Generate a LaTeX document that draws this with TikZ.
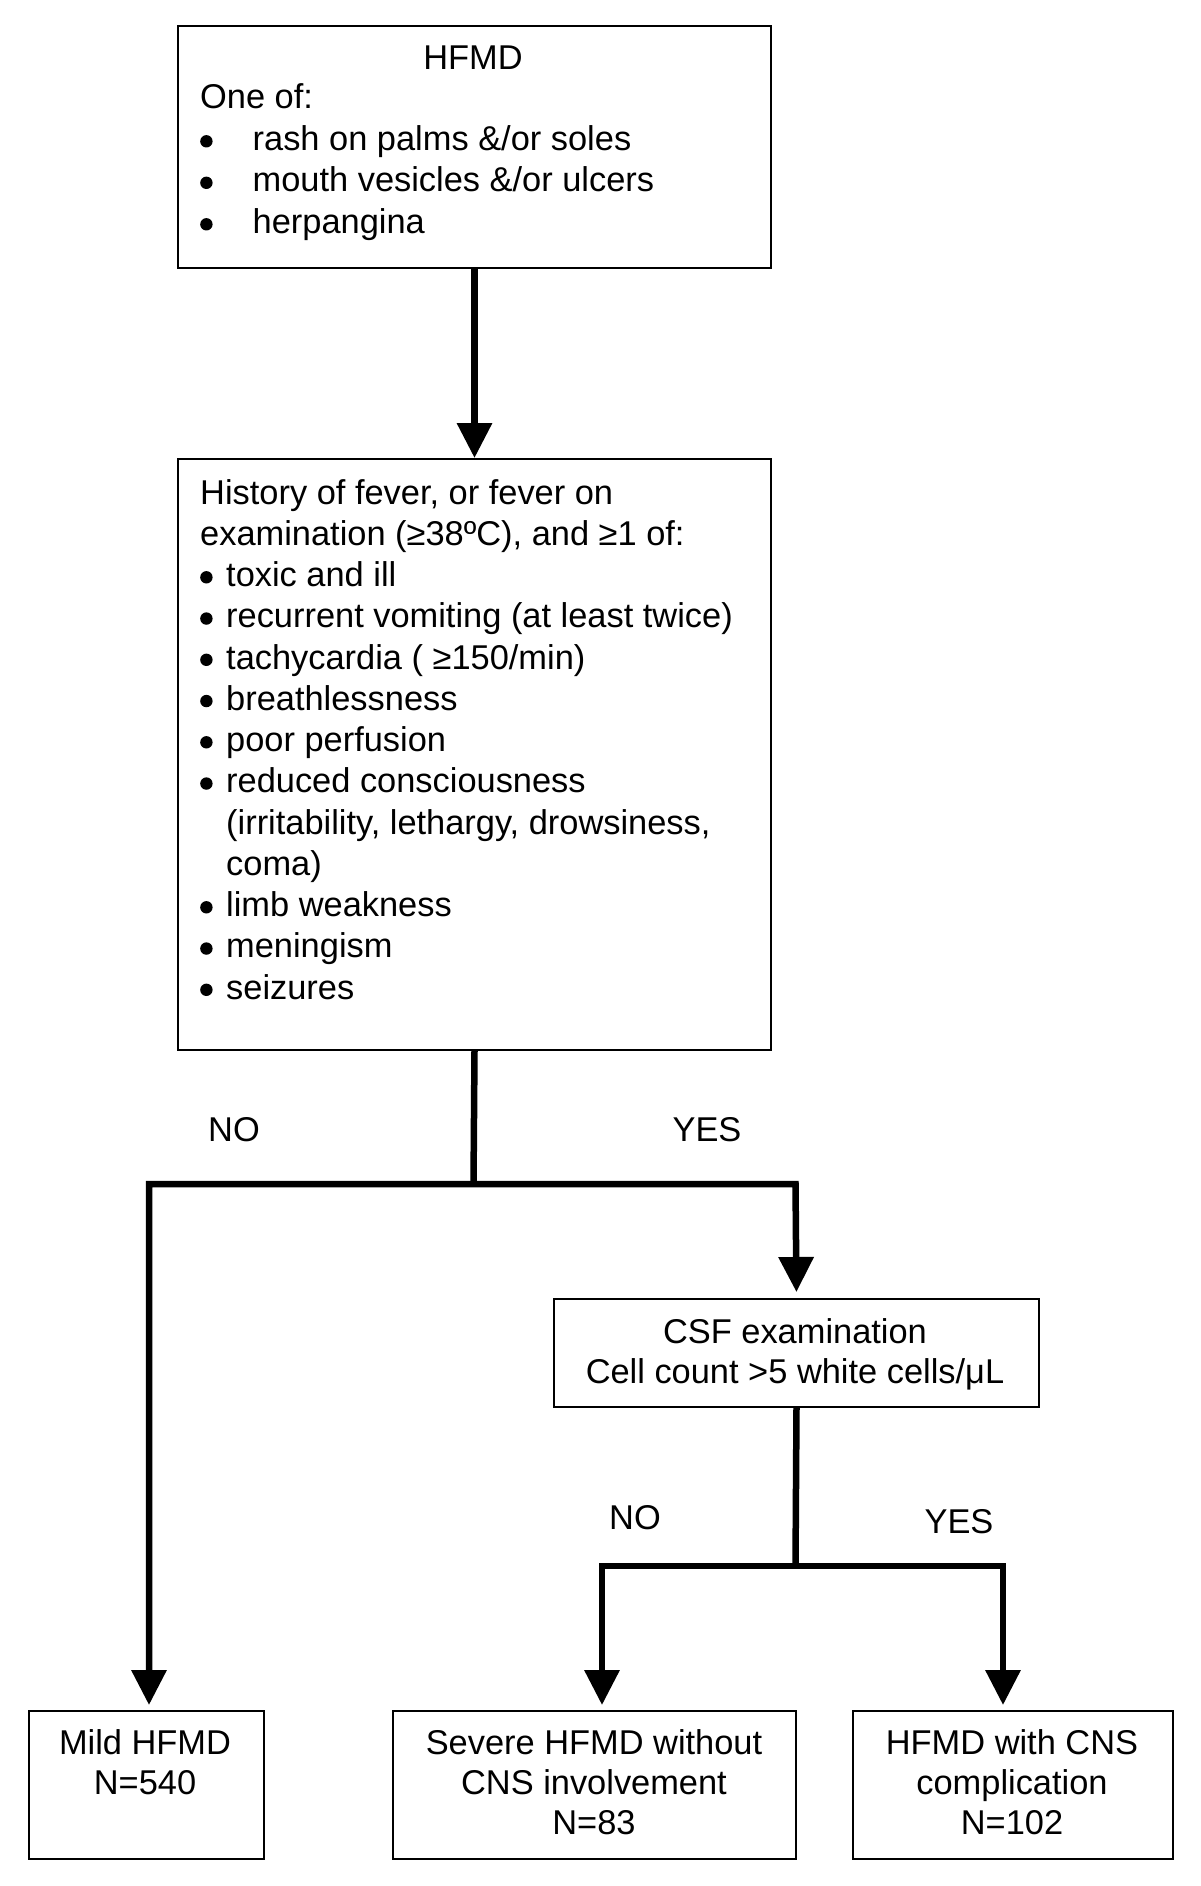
\documentclass[tikz,border=0pt]{standalone}
\usepackage{fontspec}
\setmainfont{Liberation Sans}
\usetikzlibrary{arrows.meta}
\newcommand{\mybul}[1]{\makebox[#1][l]{\raisebox{3pt}{\tikz\fill (6.2pt,6.2pt) circle[radius=6.2pt];}}}
\begin{document}
\begin{tikzpicture}[x=1pt,y=-1pt,
  box/.style={draw, line width=2pt, inner sep=0pt, anchor=north west},
  conn/.style={line width=6.5pt},
  arr/.style={conn, -{Triangle[length=35pt,width=34pt]}},
  dblarr/.style={conn, {Triangle[length=35pt,width=34pt]}-{Triangle[length=35pt,width=34pt]}},
  txt/.style={inner sep=0pt, font=\fontsize{34.4}{41.5}\selectfont},
  txtb/.style={inner sep=0pt, font=\fontsize{34.4}{41.25}\selectfont},
  txtc/.style={inner sep=0pt, font=\fontsize{34.4}{40}\selectfont}]
\useasboundingbox (0,0) rectangle (1200,1886);

% boxes
\node[box, minimum width=593pt, minimum height=242pt] (b1) at (177,25) {};
\node[box, minimum width=593pt, minimum height=591pt] (b2) at (177,458) {};
\node[box, minimum width=485pt, minimum height=108pt] (csf) at (553,1298) {};
\node[box, minimum width=235pt, minimum height=148pt] (mild) at (28,1710) {};
\node[box, minimum width=403pt, minimum height=148pt] (sev) at (392,1710) {};
\node[box, minimum width=320pt, minimum height=148pt] (cns) at (852,1710) {};

% texts
\node[txt, anchor=base] (t1h) at (473,70) {HFMD};
\node[txt, anchor=base west] (t1) at (200,109) {\begin{tabular}[t]{@{}l@{}}
One of:\\
\mybul{52.5pt}rash on palms \&/or soles\\
\mybul{52.5pt}mouth vesicles \&/or ulcers\\
\mybul{52.5pt}herpangina
\end{tabular}};

\node[txtb, anchor=base west] (t2) at (200,504) {\begin{tabular}[t]{@{}l@{}}
History of fever, or fever on\\
examination (≥38ºC), and ≥1 of:\\
\mybul{26pt}toxic and ill\\
\mybul{26pt}recurrent vomiting (at least twice)\\
\mybul{26pt}tachycardia ( ≥150/min)\\
\mybul{26pt}breathlessness\\
\mybul{26pt}poor perfusion\\
\mybul{26pt}reduced consciousness\\
\hspace*{26pt}(irritability, lethargy, drowsiness,\\
\hspace*{26pt}coma)\\
\mybul{26pt}limb weakness\\
\mybul{26pt}meningism\\
\mybul{26pt}seizures
\end{tabular}};

\node[txtc, anchor=base] (tcsf) at (795,1343) {\begin{tabular}[t]{@{}c@{}}
CSF examination\\
Cell count >5 white cells/μL
\end{tabular}};
\node[txtc, anchor=base] (tmild) at (145,1754) {\begin{tabular}[t]{@{}c@{}}
Mild HFMD\\
N=540
\end{tabular}};
\node[txtc, anchor=base] (tsev) at (594,1754) {\begin{tabular}[t]{@{}c@{}}
Severe HFMD without\\
CNS involvement\\
N=83
\end{tabular}};
\node[txtc, anchor=base] (tcns) at (1012,1754) {\begin{tabular}[t]{@{}c@{}}
HFMD with CNS\\
complication\\
N=102
\end{tabular}};

% labels
\node[txt, anchor=base] (no1) at (234,1141) {NO};
\node[txt, anchor=base] (yes1) at (707,1141) {YES};
\node[txt, anchor=base] (no2) at (635,1529) {NO};
\node[txt, anchor=base] (yes2) at (959,1533) {YES};

% junction coordinates
\coordinate (j1) at (473.5,1184);
\coordinate (l1) at (149,1184);
\coordinate (r1) at (795.5,1184);
\coordinate (j2) at (795.5,1566);
\coordinate (l2) at (602,1566);
\coordinate (r2) at (1003,1566);

% connectors
\draw[arr] (b1.south) -- (b2.north);
\draw[conn] (b2.south) -- (j1);
\draw[dblarr, shorten <=5pt, shorten >=6pt] (l1 |- mild.north) -- (l1) -- (r1) -- (csf.north);
\draw[conn] (csf.south) -- (j2);
\draw[dblarr, shorten <=5pt, shorten >=5pt] (l2 |- sev.north) -- (l2) -- (r2) -- (r2 |- cns.north);
\end{tikzpicture}
\end{document}
